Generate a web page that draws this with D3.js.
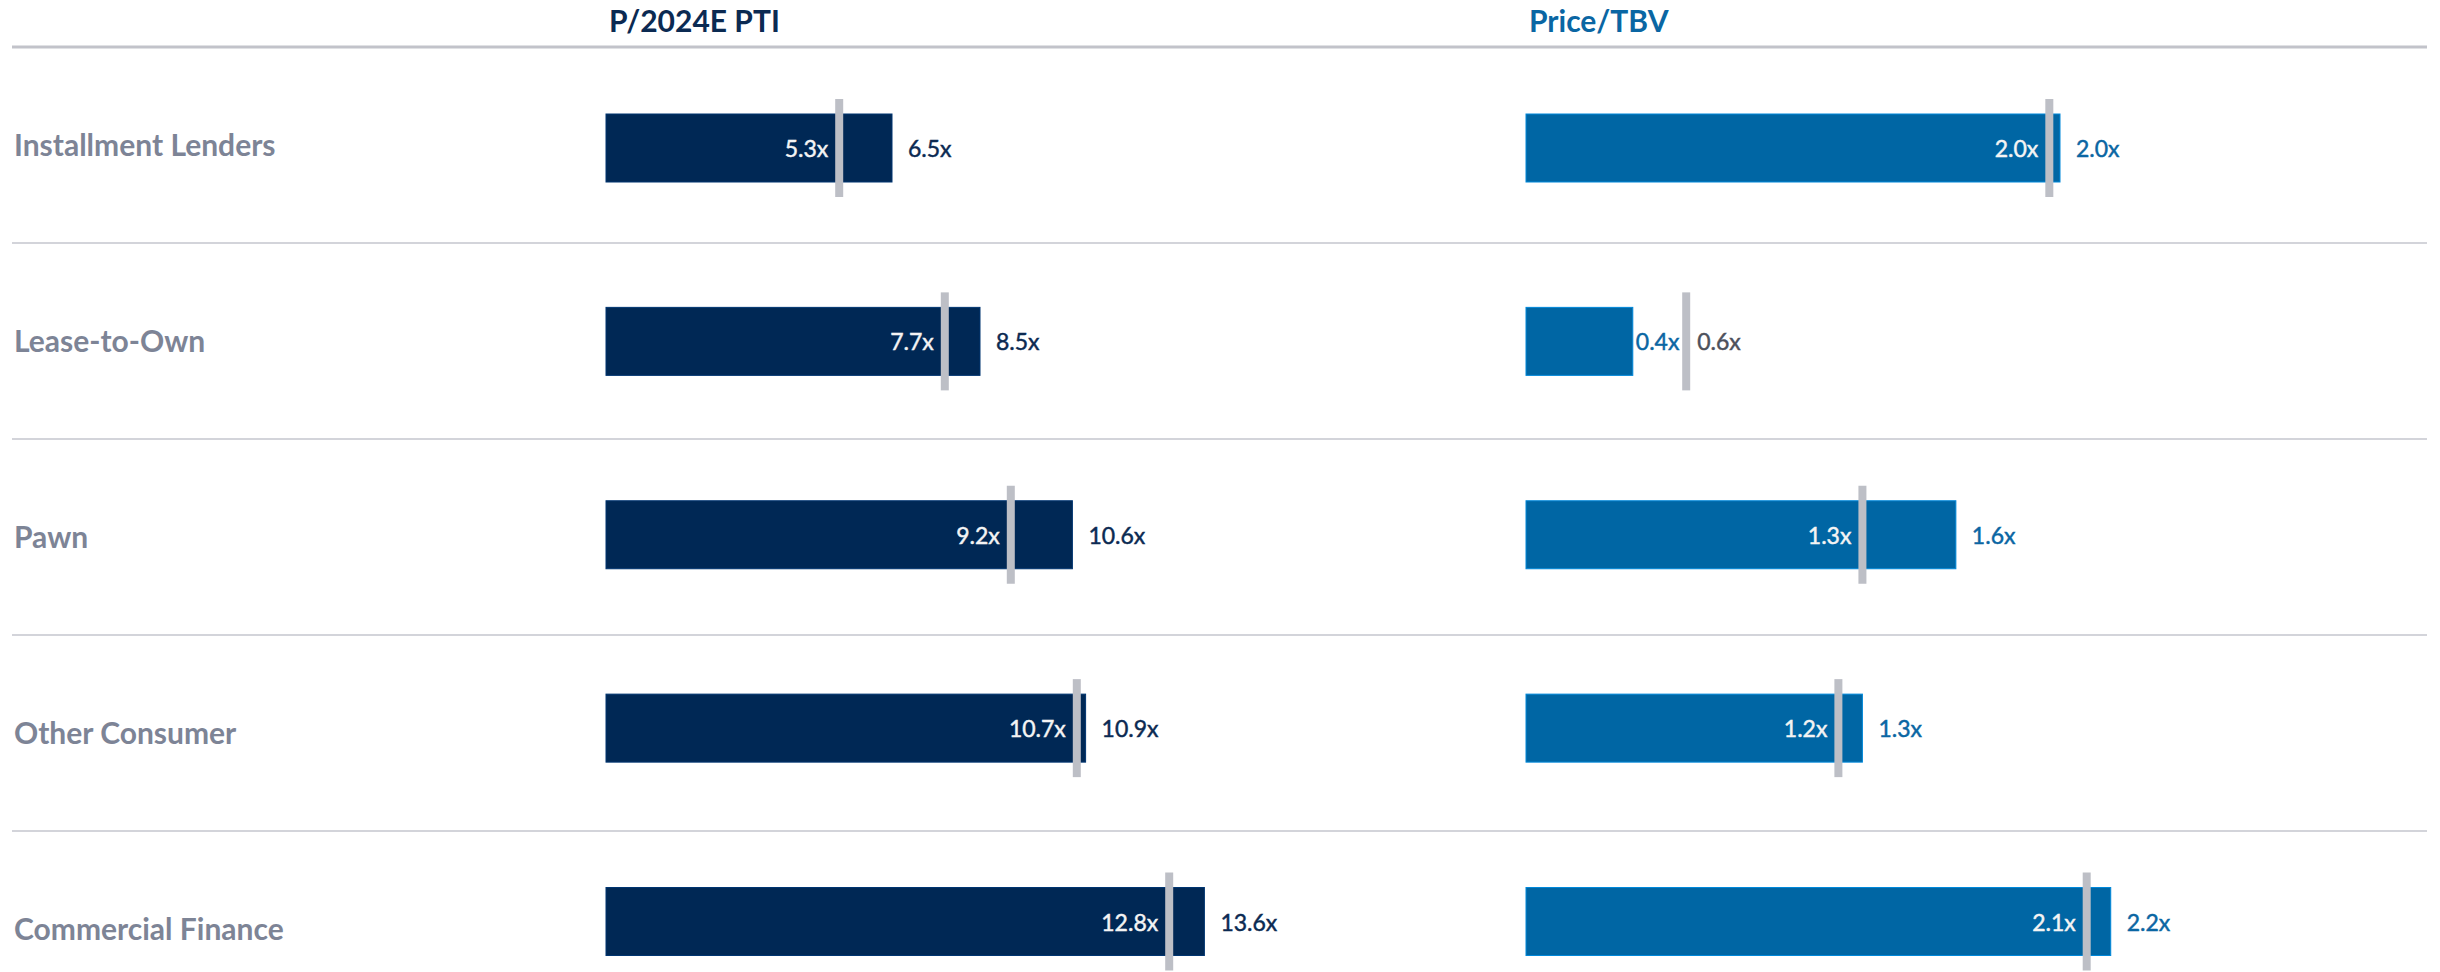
<!DOCTYPE html>
<html>
<head>
<meta charset="utf-8">
<script src="https://cdn.jsdelivr.net/npm/d3@7"></script>
<style>
  html, body { margin: 0; padding: 0; background: #ffffff; }
  svg { display: block; }
</style>
</head>
<body>
<svg id="chart" width="2440" height="972"></svg>
<script>
// ---------- data ----------
const categories = ["Installment Lenders", "Lease-to-Own", "Pawn", "Other Consumer", "Commercial Finance"];
const panelTitles = ["P/2024E PTI", "Price/TBV"];
// P/2024E PTI: bar = segment value, marker = reference value
const ptiBar    = [6.5, 8.5, 10.6, 10.9, 13.6];
const ptiMarker = [5.3, 7.7, 9.2, 10.7, 12.8];
// Price/TBV
const tbvBar    = [2.0, 0.4, 1.61, 1.26, 2.19];
const tbvMarker = [1.96, 0.6, 1.26, 1.17, 2.1];

// ---------- layout ----------
const W = 2440, H = 972;
const svg = d3.select("#chart");
const fmt = d3.format(".1f");

const labelFont = "Lato, 'Open Sans', sans-serif";

// row bands (separators + row labels)
const rowBand = d3.scaleBand().domain(categories).range([47, 47 + 196 * 5]);
// bar centres
const barY = d3.scalePoint().domain(categories).range([148, 921.5]);
const barH = 68, markerW = 8, markerH = 98;

// x scales
const xPTI = d3.scaleLinear().domain([0, 10]).range([606, 1046]);
const xTBV = d3.scaleLinear().domain([0, 2]).range([1526, 2060]);

// separators
svg.append("line")
  .attr("x1", 12).attr("x2", 2427)
  .attr("y1", rowBand(categories[0])).attr("y2", rowBand(categories[0]))
  .attr("stroke", "#c2c3ca").attr("stroke-width", 3);
svg.selectAll("line.sep")
  .data(categories.slice(1))
  .join("line")
  .attr("class", "sep")
  .attr("x1", 12).attr("x2", 2427)
  .attr("y1", d => rowBand(d)).attr("y2", d => rowBand(d))
  .attr("stroke", "#d3d4da").attr("stroke-width", 2);

// row labels
svg.selectAll("text.rowlab")
  .data(categories)
  .join("text")
  .attr("class", "rowlab")
  .attr("x", 14)
  .attr("y", d => rowBand(d) + rowBand.bandwidth() / 2)
  .attr("dy", "0.36em")
  .attr("font-family", labelFont)
  .attr("font-weight", 700)
  .attr("font-size", 30)
  .attr("fill", "#7d8496")
  .text(d => d);

function panel(title, x, bars, markers, barColor, titleColor, outColor) {
  const g = svg.append("g");
  g.append("text")
    .attr("x", x(0) + 3).attr("y", 32)
    .attr("font-family", labelFont)
    .attr("font-weight", 700)
    .attr("font-size", 30)
    .attr("fill", titleColor)
    .text(title);

  const rows = categories.map((c, i) => ({ c, v: bars[i], m: markers[i] }));

  g.selectAll("rect.bar")
    .data(rows)
    .join("rect")
    .attr("class", "bar")
    .attr("x", x(0))
    .attr("y", d => barY(d.c) - barH / 2)
    .attr("width", d => x(d.v) - x(0))
    .attr("height", barH)
    .attr("fill", barColor)
    .attr("stroke", d3.color(barColor).brighter(0.8))
    .attr("stroke-width", 1);

  g.selectAll("rect.marker")
    .data(rows)
    .join("rect")
    .attr("class", "marker")
    .attr("x", d => x(d.m) - markerW / 2)
    .attr("y", d => barY(d.c) - markerH / 2)
    .attr("width", markerW)
    .attr("height", markerH)
    .attr("fill", "#bdbfc6");

  // marker labels
  g.selectAll("text.mlab")
    .data(rows)
    .join("text")
    .attr("class", "mlab")
    .attr("x", d => d.m <= d.v ? x(d.m) - 11 : x(d.m) + 11)
    .attr("y", d => barY(d.c) + 9)
    .attr("text-anchor", d => d.m <= d.v ? "end" : "start")
    .attr("font-family", labelFont)
    .attr("font-size", 23)
    .attr("fill", d => d.m <= d.v ? "#f4f4f4" : "#4d515c")
    .attr("stroke", d => d.m <= d.v ? "#f4f4f4" : "#4d515c")
    .attr("stroke-width", 0.45)
    .text(d => fmt(d.m) + "x");

  // bar labels
  g.selectAll("text.blab")
    .data(rows)
    .join("text")
    .attr("class", "blab")
    .attr("x", d => x(d.v) + (d.m <= d.v ? 16 : 3))
    .attr("y", d => barY(d.c) + 9)
    .attr("font-family", labelFont)
    .attr("font-size", 23)
    .attr("fill", outColor)
    .attr("stroke", outColor)
    .attr("stroke-width", 0.45)
    .text(d => fmt(d.v) + "x");
}

panel(panelTitles[0], xPTI, ptiBar, ptiMarker, "#002855", "#0b2a52", "#0b2a52");
panel(panelTitles[1], xTBV, tbvBar, tbvMarker, "#0066a4", "#0a66a3", "#0a66a3");
</script>
</body>
</html>
